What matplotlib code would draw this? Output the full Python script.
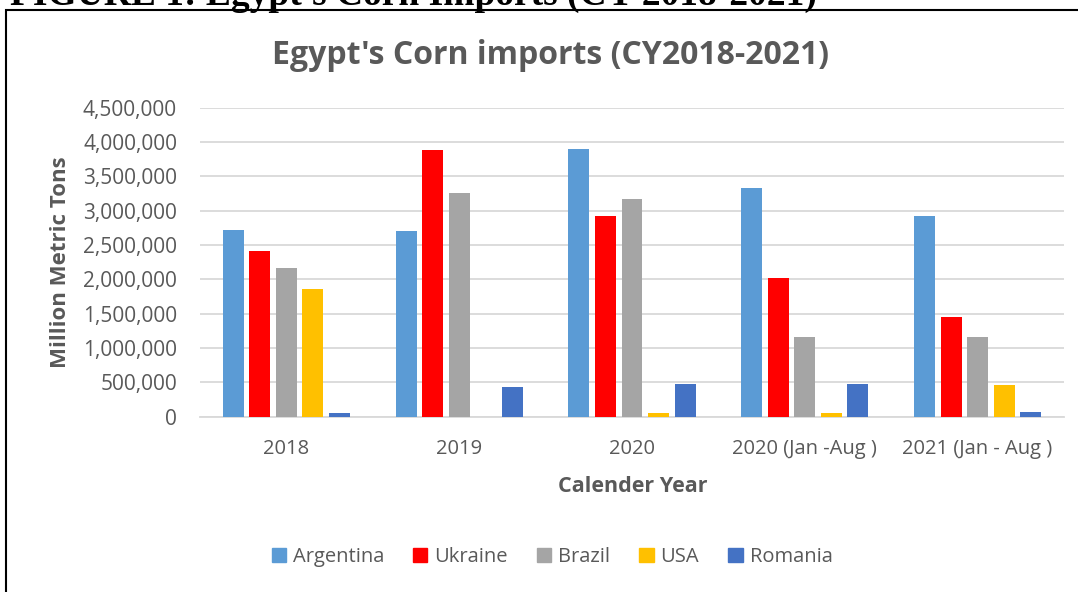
import matplotlib.pyplot as plt
import matplotlib.patches as mpatches
from matplotlib.ticker import FuncFormatter
import numpy as np

# values (tons)
categories = ['2018', '2019', '2020', '2020 (Jan -Aug )', '2021 (Jan - Aug )']
argentina = [2714000, 2700000, 3900000, 3330000, 2930000]
ukraine = [2408000, 3880000, 2918000, 2020000, 1450000]
brazil = [2165000, 3257000, 3170000, 1160000, 1165000]
usa = [1860000, 0, 54000, 50000, 457000]
romania = [50000, 428000, 476000, 470000, 64000]

series = [('Argentina', argentina, '#5B9BD5'),
          ('Ukraine', ukraine, '#FF0000'),
          ('Brazil', brazil, '#A5A5A5'),
          ('USA', usa, '#FFC000'),
          ('Romania', romania, '#4472C4')]

W, H = 1078, 592
fig = plt.figure(figsize=(W / 100, H / 100), dpi=100)
plt.rcParams['font.family'] = ['Open Sans', 'DejaVu Sans']
grey = '#595959'

def fx(px):
    return px / W

def fy(py):
    return 1 - py / H

ax = fig.add_axes([fx(200), fy(416.7), (1064 - 200) / W, (416.7 - 107.7) / H])

x = np.arange(len(categories))
step = 0.1534
width = 0.1215
for i, (name, vals, color) in enumerate(series):
    ax.bar(x + (i - 2) * step, vals, width, color=color, label=name, zorder=3)

ax.set_xlim(-0.5, len(categories) - 0.5)
ax.set_ylim(0, 4500000)
ax.set_yticks(np.arange(0, 4500001, 500000))
ax.yaxis.set_major_formatter(FuncFormatter(lambda v, p: f'{int(v):,}'))
ax.set_xticks(x)
ax.set_xticklabels(categories)
ax.tick_params(axis='y', length=0, pad=16.5, labelsize=15, labelcolor=grey)
ax.tick_params(axis='x', length=0, pad=16, labelsize=14.5, labelcolor=grey)
ax.grid(axis='y', color='#D9D9D9', linewidth=1.3, zorder=0)
for s in ['top', 'right', 'left']:
    ax.spines[s].set_visible(False)
ax.spines['bottom'].set_color('#D9D9D9')
ax.spines['bottom'].set_linewidth(1.3)

# titles and axis labels
fig.text(fx(551), fy(56), "Egypt's Corn imports (CY2018-2021)", ha='center', va='center',
         fontsize=23, fontweight='bold', color=grey)
fig.text(fx(633), fy(487), 'Calender Year', ha='center', va='center',
         fontsize=15.5, fontweight='bold', color=grey)
fig.text(fx(60), fy(262), 'Million Metric Tons', ha='center', va='center', rotation=90,
         fontsize=16, fontweight='bold', color=grey)

# legend
handles = [mpatches.Patch(color=c, label=n) for n, _, c in series]
fig.legend(handles=handles, loc='center', bbox_to_anchor=(fx(552), fy(557)), ncol=5,
           frameon=False, fontsize=14.5, labelcolor=grey, handlelength=0.7,
           handleheight=0.7, handletextpad=0.35, columnspacing=1.45)

# page caption cut off at the top and frame around the chart
fig.text(fx(10), fy(5), "FIGURE 1: Egypt's Corn Imports (CY 2018-2021)", ha='left',
         va='baseline', fontsize=27, fontweight='bold', family='Liberation Serif', color='black')
fig.patches.append(mpatches.Rectangle((fx(6), fy(620)), fx(1100), fy(10) - fy(620),
                                      transform=fig.transFigure, fill=False,
                                      edgecolor='black', linewidth=1.5))

plt.savefig('out.png', dpi=100)
plt.close()
